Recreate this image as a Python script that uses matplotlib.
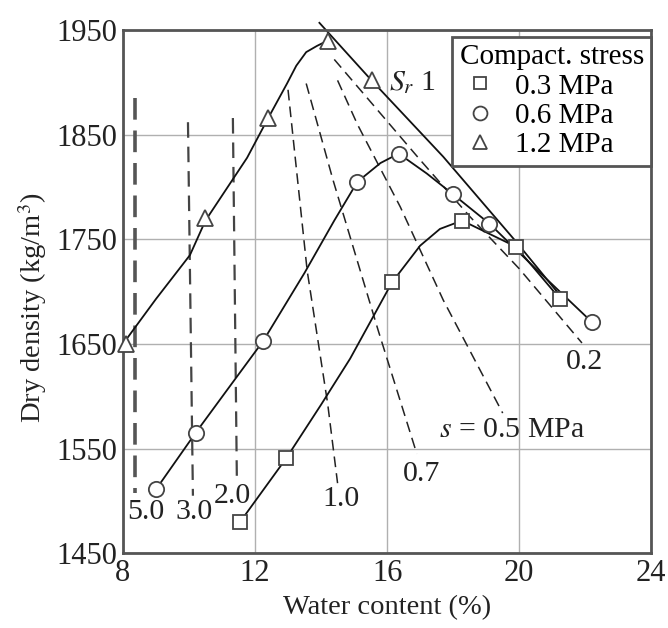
import matplotlib.pyplot as plt
from matplotlib.lines import Line2D

plt.rcParams['font.family'] = ['Liberation Serif', 'DejaVu Serif']
plt.rcParams['mathtext.fontset'] = 'stix'

# ensaios (umidade %, densidade seca kg/m3)
w_03 = [11.55, 12.95, 16.15, 18.27, 19.9, 21.24]
rho_03 = [1480, 1541, 1709, 1768, 1743, 1693]
w_06 = [9.0, 10.2, 12.25, 15.1, 16.35, 18.0, 19.1, 22.2]
rho_06 = [1511, 1565, 1653, 1805, 1832, 1793, 1765, 1671]
w_12 = [8.1, 10.5, 12.4, 14.2, 15.55]
rho_12 = [1650, 1770, 1866, 1940, 1902]

# curvas de compactacao
c03_w = [11.55, 12.95, 14.0, 14.88, 16.15, 17.0, 17.6, 18.27, 19.9, 21.24]
c03_rho = [1480, 1541, 1592, 1636, 1709, 1744, 1760, 1768, 1743, 1693]
c06_w = [9.0, 10.2, 11.2, 12.25, 13.5, 14.4, 15.1, 15.8, 16.35, 17.2, 18.0, 19.1, 20.5, 22.2]
c06_rho = [1511, 1565, 1608, 1653, 1718, 1768, 1805, 1823, 1832, 1813, 1793, 1765, 1722, 1671]
c12_w = [8.0, 9.0, 10.03, 10.5, 11.76, 12.4, 12.97, 13.25, 13.55, 13.88, 14.2]
c12_rho = [1650, 1693, 1735, 1768, 1828, 1866, 1899, 1916, 1929, 1935, 1940]

# linha de saturacao Sr = 1
sr_w = [13.95, 15.5, 17.7, 19.9, 21.3]
sr_rho = [1957, 1903, 1829, 1748, 1694]

# linhas de succao constante
suc_labels = ['5.0', '3.0', '2.0', '1.0', '0.7', 's = 0.5 MPa', '0.2']
suc_w = [[8.36, 8.36], [9.97, 10.12], [11.33, 11.45],
         [13.0, 13.58, 14.2, 14.5],
         [13.55, 14.36, 15.73, 16.9],
         [14.5, 15.1, 16.4, 17.7, 19.5],
         [14.4, 17.0, 18.5, 20.0, 21.9]]
suc_rho = [[1885, 1508], [1862, 1505], [1866, 1522],
           [1893, 1720, 1593, 1517],
           [1899, 1807, 1663, 1545],
           [1902, 1860, 1781, 1692, 1584],
           [1922, 1826, 1772, 1722, 1651]]
suc_lbl_w = [8.7, 10.15, 11.3, 14.6, 17.03, 19.8, 21.97]
suc_lbl_rho = [1489, 1489, 1505, 1502, 1526, 1568, 1633]

fig = plt.figure(figsize=(6.68, 6.28), dpi=100)
ax = fig.add_axes([0.184, 0.119, 0.791, 0.833])

# linhas tracejadas de succao
for i in range(len(suc_w)):
    if i == 0:
        ax.plot(suc_w[i], suc_rho[i], color='#555555', lw=2.6, dashes=(6, 3))
    elif i < 3:
        ax.plot(suc_w[i], suc_rho[i], color='#444444', lw=1.6, dashes=(7, 4))
    else:
        ax.plot(suc_w[i], suc_rho[i], color='#222222', lw=1.1, dashes=(7, 4))
    if i == 5:
        ax.text(suc_lbl_w[i], suc_lbl_rho[i], r'$s$ = 0.5 MPa', fontsize=21.5,
                ha='center', va='center', color='#222222')
    else:
        ax.text(suc_lbl_w[i], suc_lbl_rho[i], suc_labels[i], fontsize=21.5,
                ha='center', va='center', color='#222222')

ax.plot(sr_w, sr_rho, color='#111111', lw=1.3, clip_on=False)
ax.text(16.78, 1900, r'$S_r$ 1', fontsize=21.5, ha='center', va='center', color='#222222')

ax.plot(c03_w, c03_rho, color='#111111', lw=1.3)
ax.plot(c06_w, c06_rho, color='#111111', lw=1.3)
ax.plot(c12_w, c12_rho, color='#111111', lw=1.3)

mk = dict(ls='none', mfc='white', mec='#444444', mew=1.3, zorder=5, clip_on=False)
ax.plot(w_03, rho_03, marker='s', ms=10, **mk)
ax.plot(w_06, rho_06, marker='o', ms=11, **mk)
ax.plot(w_12, rho_12, marker='^', ms=11, **mk)

ax.set_xlim(8, 24)
ax.set_ylim(1450, 1950)
ax.set_xticks([8, 12, 16, 20, 24])
ax.set_yticks([1450, 1550, 1650, 1750, 1850, 1950])
ax.grid(True, color='#b0b0b0', lw=1)
ax.set_axisbelow(True)
ax.tick_params(length=0, labelsize=22, pad=4, colors='#222222')
for s in ax.spines.values():
    s.set_color('#555555')
    s.set_linewidth(2)

ax.set_xlabel('Water content (%)', fontsize=20.5, color='#222222', labelpad=5)
ax.set_ylabel('Dry density (kg/m$^3$)', fontsize=20.5, color='#222222', labelpad=2)
ax.yaxis.set_label_coords(-0.14, 0.47)

handles = [Line2D([], [], ls='none', marker='s', ms=9, mfc='white', mec='#444444', mew=1.3),
           Line2D([], [], ls='none', marker='o', ms=10, mfc='white', mec='#444444', mew=1.3),
           Line2D([], [], ls='none', marker='^', ms=10, mfc='white', mec='#444444', mew=1.3)]
leg = ax.legend(handles, ['0.3 MPa', '0.6 MPa', '1.2 MPa'], title='Compact. stress',
                loc='upper right', bbox_to_anchor=(1.0, 0.987), fontsize=21,
                title_fontsize=21, alignment='left', fancybox=False, framealpha=1,
                edgecolor='#555555', borderaxespad=0, handlelength=1.4,
                handletextpad=0.5, labelspacing=0.1, borderpad=0.25)
leg.get_frame().set_linewidth(2)
leg.set_zorder(10)

plt.savefig('out.png', dpi=100)
